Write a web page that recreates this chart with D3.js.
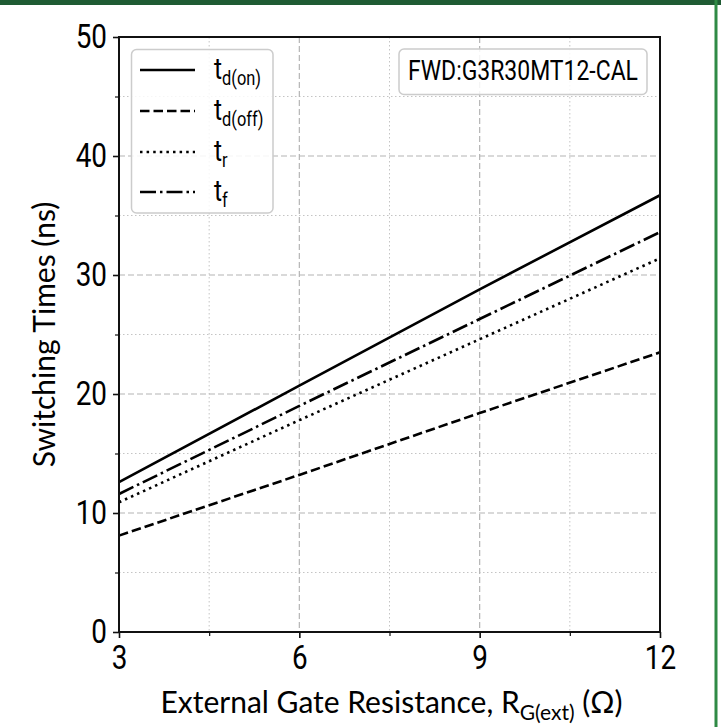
<!DOCTYPE html>
<html>
<head>
<meta charset="utf-8">
<script src="https://cdn.jsdelivr.net/npm/d3@7"></script>
<style>
  html, body { margin: 0; padding: 0; background: #fff; }
  svg { display: block; }
</style>
</head>
<body>
<svg id="chart" width="721" height="727"></svg>
<script>
// Gate resistance sweep (ohm) and the four switching times (ns)
const rg = [3, 6, 9, 12];
const tdOn = [12.6, 20.7, 28.8, 36.7];
const tdOff = [8.1, 13.2, 18.4, 23.5];
const tR = [10.9, 17.8, 24.6, 31.4];
const tF = [11.6, 19.0, 26.3, 33.6];

const xTicks = [3, 6, 9, 12];
const xMinor = [4.5, 7.5, 10.5];
const yTicks = [0, 10, 20, 30, 40, 50];
const yMinor = [5, 15, 25, 35, 45];

const seriesNames = ["d(on)", "d(off)", "r", "f"];
const deviceLabel = "FWD:G3R30MT12-CAL";

const W = 721, H = 727;
const plot = { left: 119, right: 660, top: 37, bottom: 632 };
const COND = 0.82;           // horizontal squeeze for the narrow label face
const NARROW = "Roboto, 'Noto Sans', sans-serif";
const LABEL = "Lato, 'Open Sans', sans-serif";

const svg = d3.select("#chart").attr("viewBox", `0 0 ${W} ${H}`);

// frame accents
svg.append("rect").attr("x", 0).attr("y", 0).attr("width", W).attr("height", 5).attr("fill", "#1f5b33");
svg.append("rect").attr("x", 714.5).attr("y", 0).attr("width", 3).attr("height", H).attr("fill", "#2f8a45");

const x = d3.scaleLinear().domain([3, 12]).range([plot.left, plot.right]);
const y = d3.scaleLinear().domain([0, 50]).range([plot.bottom, plot.top]);

const g = svg.append("g");

// minor grid (dotted)
const gridMinor = g.append("g").attr("stroke", "#c4c4c4").attr("stroke-width", 1).attr("stroke-dasharray", "1.5,2.5");
xMinor.forEach(v => gridMinor.append("line").attr("x1", x(v)).attr("x2", x(v)).attr("y1", plot.top).attr("y2", plot.bottom));
yMinor.forEach(v => gridMinor.append("line").attr("x1", plot.left).attr("x2", plot.right).attr("y1", y(v)).attr("y2", y(v)));

// major grid (dashed)
const gridMajor = g.append("g").attr("stroke", "#b4b4b4").attr("stroke-width", 1.2).attr("stroke-dasharray", "6,3");
xTicks.slice(1, -1).forEach(v => gridMajor.append("line").attr("x1", x(v)).attr("x2", x(v)).attr("y1", plot.top).attr("y2", plot.bottom));
yTicks.slice(1, -1).forEach(v => gridMajor.append("line").attr("x1", plot.left).attr("x2", plot.right).attr("y1", y(v)).attr("y2", y(v)));

// data lines
const line = d3.line().x((d, i) => x(rg[i])).y(d => y(d));
const styles = [
  { data: tdOn, dash: null },
  { data: tdOff, dash: "9.5,4" },
  { data: tR, dash: "2.5,4.1" },
  { data: tF, dash: "16,4,2.5,4" }
];
styles.forEach(s => {
  g.append("path").attr("d", line(s.data)).attr("fill", "none")
    .attr("stroke", "#000").attr("stroke-width", 2.6)
    .attr("stroke-dasharray", s.dash);
});

// box spines
g.append("rect").attr("x", plot.left).attr("y", plot.top)
  .attr("width", plot.right - plot.left).attr("height", plot.bottom - plot.top)
  .attr("fill", "none").attr("stroke", "#111").attr("stroke-width", 2);

// axes
function squeezeTicks(sel) {
  sel.selectAll(".tick text").each(function () {
    const t = d3.select(this);
    const x0 = +t.attr("x") || 0;
    t.attr("x", x0 / COND).attr("transform", `scale(${COND},1)`);
  });
}
const xAxis = d3.axisBottom(x).tickValues(xTicks).tickSize(6).tickPadding(7).tickFormat(d3.format("d"));
const xg = g.append("g").attr("transform", `translate(0,${plot.bottom})`).call(xAxis);
xg.select(".domain").remove();
xg.selectAll(".tick line").attr("stroke", "#111").attr("stroke-width", 1.6);
xg.selectAll(".tick text").attr("font-family", NARROW).attr("font-size", 34).attr("fill", "#000");
squeezeTicks(xg);

const xMinAxis = d3.axisBottom(x).tickValues(xMinor).tickSize(4).tickFormat("");
const xmg = g.append("g").attr("transform", `translate(0,${plot.bottom})`).call(xMinAxis);
xmg.select(".domain").remove();
xmg.selectAll(".tick line").attr("stroke", "#111").attr("stroke-width", 1.2);

const yAxis = d3.axisLeft(y).tickValues(yTicks).tickSize(6).tickPadding(6).tickFormat(d3.format("d"));
const yg = g.append("g").attr("transform", `translate(${plot.left},0)`).call(yAxis);
yg.select(".domain").remove();
yg.selectAll(".tick line").attr("stroke", "#111").attr("stroke-width", 1.6);
yg.selectAll(".tick text").attr("font-family", NARROW).attr("font-size", 34).attr("fill", "#000");
squeezeTicks(yg);

const yMinAxis = d3.axisLeft(y).tickValues(yMinor).tickSize(4).tickFormat("");
const ymg = g.append("g").attr("transform", `translate(${plot.left},0)`).call(yMinAxis);
ymg.select(".domain").remove();
ymg.selectAll(".tick line").attr("stroke", "#111").attr("stroke-width", 1.2);

// axis titles
svg.append("text")
  .attr("transform", `translate(55,${(plot.top + plot.bottom) / 2}) rotate(-90)`)
  .attr("text-anchor", "middle").attr("font-family", LABEL).attr("font-size", 30).attr("fill", "#000")
  .text("Switching Times (ns)");

const xt = svg.append("text")
  .attr("x", (plot.left + plot.right) / 2 + 2).attr("y", 713)
  .attr("text-anchor", "middle").attr("font-family", LABEL).attr("font-size", 30).attr("fill", "#000");
xt.append("tspan").text("External Gate Resistance, R");
xt.append("tspan").attr("font-size", 21).attr("dy", 7).text("G(ext)");
xt.append("tspan").attr("dy", -7).text(" (Ω)");

// legend
const lg = svg.append("g");
lg.append("rect").attr("x", 131.5).attr("y", 49.5).attr("width", 141.5).attr("height", 163.5)
  .attr("rx", 5).attr("fill", "#fff").attr("fill-opacity", 0.85)
  .attr("stroke", "#cccccc").attr("stroke-width", 1.5);
const rowY = [70, 111, 152, 192];
styles.forEach((s, i) => {
  lg.append("line").attr("x1", 140).attr("x2", 195).attr("y1", rowY[i]).attr("y2", rowY[i])
    .attr("stroke", "#000").attr("stroke-width", 2.6).attr("stroke-dasharray", s.dash);
  const t = lg.append("text")
    .attr("transform", `translate(214,${rowY[i] + 9}) scale(${COND},1)`)
    .attr("font-family", NARROW).attr("font-size", 30).attr("fill", "#000");
  t.append("tspan").text("t");
  t.append("tspan").attr("font-size", 20).attr("dy", 6).text(seriesNames[i]);
});

// device label box
const db = svg.append("g");
db.append("rect").attr("x", 399).attr("y", 49).attr("width", 248).attr("height", 45.5)
  .attr("rx", 5).attr("fill", "#fff").attr("fill-opacity", 0.85)
  .attr("stroke", "#cccccc").attr("stroke-width", 1.5);
db.append("text")
  .attr("transform", `translate(523,80) scale(${COND},1)`)
  .attr("text-anchor", "middle").attr("font-family", NARROW).attr("font-size", 28).attr("fill", "#000")
  .text(deviceLabel);
</script>
</body>
</html>
